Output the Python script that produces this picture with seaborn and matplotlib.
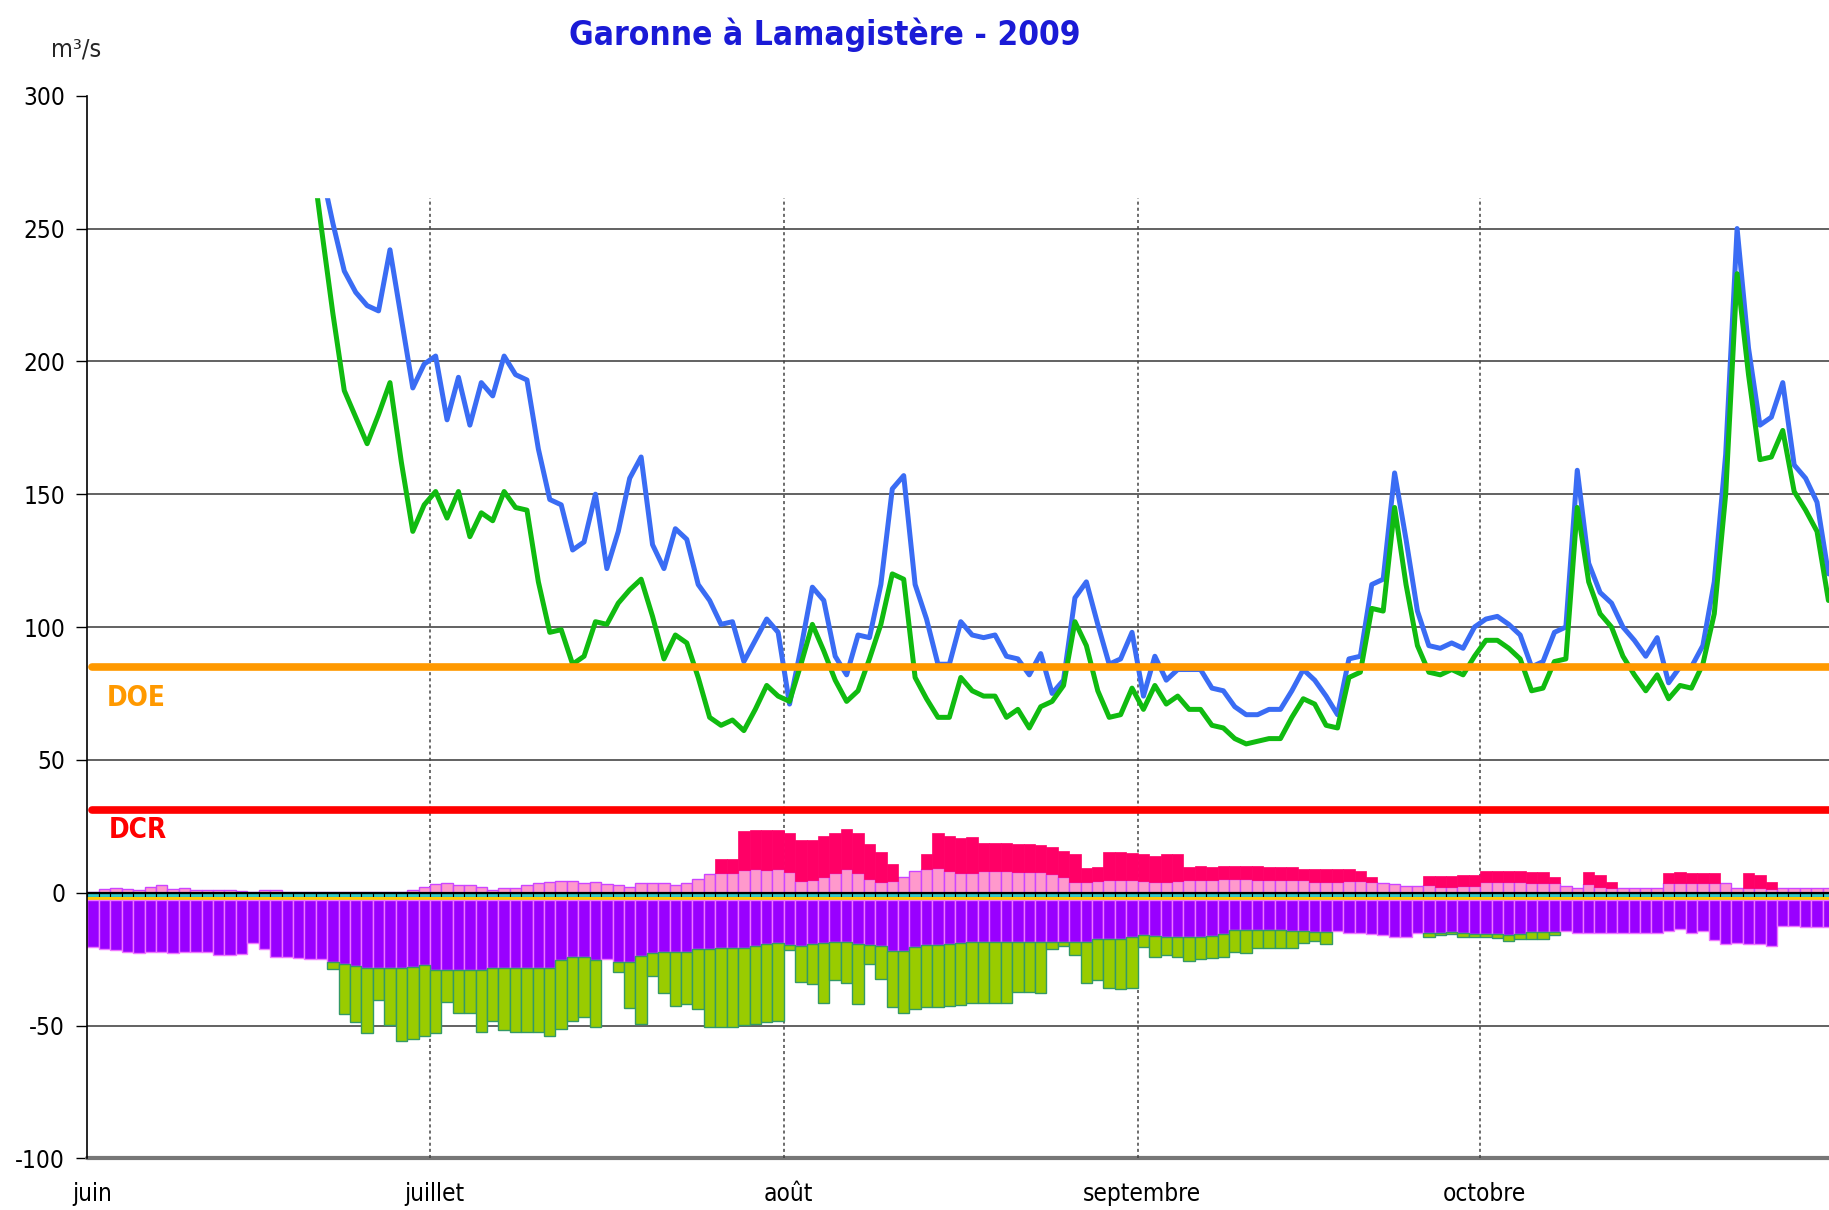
import matplotlib
matplotlib.use("Agg")
import matplotlib.pyplot as plt
import numpy as np
import pandas as pd
import seaborn as sns

# jour 0 = 1er juin 2009
mois = ["juin", "juillet", "août", "septembre", "octobre"]
debut_mois = [0, 30, 61, 92, 122]

# débits journaliers (m3/s)
debit_bleu = [
    560, 540, 520, 505, 490, 470, 455, 440, 430, 420,
    405, 390, 380, 365, 350, 340, 325, 310, 300, 290,
    272, 252, 234, 226, 221, 219, 242, 216, 190, 199,
    202, 178, 194, 176, 192, 187, 202, 195, 193, 167,
    148, 146, 129, 132, 150, 122, 136, 156, 164, 131,
    122, 137, 133, 116, 110, 101, 102, 87, 95, 103,
    98, 71, 92, 115, 110, 89, 82, 97, 96, 116,
    152, 157, 116, 103, 86, 86, 102, 97, 96, 97,
    89, 88, 82, 90, 75, 80, 111, 117, 101, 86,
    88, 98, 74, 89, 80, 84, 84, 84, 77, 76,
    70, 67, 67, 69, 69, 76, 84, 80, 74, 67,
    88, 89, 116, 118, 158, 133, 106, 93, 92, 94,
    92, 100, 103, 104, 101, 97, 85, 87, 98, 100,
    159, 124, 113, 109, 100, 95, 89, 96, 79, 85,
    85, 93, 117, 165, 250, 205, 176, 179, 192, 161,
    156, 147, 120,
]
debit_vert = [
    530, 510, 495, 480, 465, 450, 435, 420, 410, 400,
    385, 370, 360, 345, 335, 325, 315, 305, 295, 283,
    250, 218, 189, 179, 169, 180, 192, 162, 136, 146,
    151, 141, 151, 134, 143, 140, 151, 145, 144, 117,
    98, 99, 86, 89, 102, 101, 109, 114, 118, 104,
    88, 97, 94, 81, 66, 63, 65, 61, 69, 78,
    74, 72, 86, 101, 91, 80, 72, 76, 88, 101,
    120, 118, 81, 73, 66, 66, 81, 76, 74, 74,
    66, 69, 62, 70, 72, 78, 102, 93, 76, 66,
    67, 77, 69, 78, 71, 74, 69, 69, 63, 62,
    58, 56, 57, 58, 58, 66, 73, 71, 63, 62,
    81, 83, 107, 106, 145, 116, 93, 83, 82, 84,
    82, 89, 95, 95, 92, 88, 76, 77, 87, 88,
    145, 117, 105, 100, 89, 82, 76, 82, 73, 78,
    77, 86, 105, 150, 233, 195, 163, 164, 174, 151,
    144, 136, 110,
]
doe = 85
dcr = 31

# barres empilées (m3/s)
rose = [
    0.4, 1.4, 1.9, 1.4, 1.0, 2.3, 3.0, 1.5, 1.9, 1.0,
    1.0, 1.0, 1.0, 0.6, 0.3, 1.0, 0.9, 0.3, 0.3, 0.3,
    0.3, 0.3, 0.3, 0.3, 0.3, 0.3, 0.3, 0.3, 1.0, 2.0,
    3.1, 3.5, 2.9, 2.9, 2.3, 1.0, 1.6, 1.6, 2.9, 3.5,
    3.9, 4.5, 4.4, 3.5, 3.9, 3.3, 2.8, 2.3, 3.5, 3.5,
    3.5, 2.8, 3.5, 5.0, 7.0, 7.5, 7.5, 8.5, 8.8, 8.5,
    8.8, 7.7, 4.3, 4.8, 6.0, 7.5, 8.8, 7.3, 5.0, 4.1,
    4.4, 6.0, 8.3, 8.8, 9.2, 8.3, 7.3, 7.5, 8.3, 8.3,
    8.3, 7.7, 7.7, 7.7, 6.9, 5.8, 3.9, 4.1, 4.4, 4.8,
    4.8, 4.8, 4.4, 4.1, 4.1, 4.4, 4.8, 4.8, 4.8, 5.3,
    5.2, 5.2, 4.8, 4.8, 4.8, 4.8, 4.8, 4.1, 4.1, 4.1,
    4.4, 4.4, 3.9, 3.5, 3.3, 2.5, 2.5, 2.9, 2.3, 2.3,
    2.5, 2.5, 4.1, 4.1, 4.1, 4.1, 3.8, 3.8, 3.8, 2.5,
    1.6, 3.3, 2.3, 1.6, 1.6, 1.6, 1.6, 1.6, 3.5, 3.5,
    3.5, 3.5, 3.5, 3.5, 1.6, 1.6, 1.6, 1.3, 1.6, 1.6,
    1.6, 1.6, 1.6,
]
rouge = [
    0, 0, 0, 0, 0, 0, 0, 0, 0, 0,
    0, 0, 0, 0, 0, 0, 0, 0, 0, 0,
    0, 0, 0, 0, 0, 0, 0, 0, 0, 0,
    0, 0, 0, 0, 0, 0, 0, 0, 0, 0,
    0, 0, 0, 0, 0, 0, 0, 0, 0, 0,
    0, 0, 0, 0, 0, 5.0, 5.0, 14.7, 14.8, 15.1,
    14.8, 14.9, 15.5, 15.0, 15.3, 15.1, 15.0, 15.0, 13.3, 11.1,
    6.4, 0, 0, 5.6, 13.1, 13.2, 13.2, 13.3, 10.5, 10.5,
    10.5, 10.6, 10.6, 10.2, 10.4, 10.0, 10.5, 5.1, 5.4, 10.4,
    10.4, 10.0, 10.0, 9.7, 10.3, 10.0, 5.0, 5.4, 5.0, 4.9,
    5.0, 5.0, 5.4, 5.0, 4.7, 4.7, 4.0, 4.7, 4.7, 4.7,
    4.4, 3.8, 1.9, 0, 0, 0, 0, 3.4, 4.0, 4.0,
    4.1, 4.1, 4.1, 4.1, 4.1, 4.1, 3.9, 3.9, 2.0, 0,
    0, 4.4, 4.3, 2.5, 0, 0, 0, 0, 3.8, 4.2,
    3.8, 3.8, 3.8, 0, 0, 5.7, 5.0, 2.8, 0, 0,
    0, 0, 0,
]
bande_cyan = 1.8
bande_jaune = 0.9
violet = [
    17.9, 18.4, 18.9, 19.5, 20.0, 19.5, 19.5, 20.0, 19.5, 19.5,
    19.5, 20.8, 20.9, 20.4, 16.4, 18.4, 21.4, 21.4, 21.9, 22.4,
    22.4, 23.3, 24.2, 25.0, 25.5, 25.5, 25.5, 25.5, 25.2, 24.7,
    26.5, 26.5, 26.5, 26.5, 26.5, 25.8, 25.5, 25.5, 25.5, 25.5,
    25.5, 22.6, 21.6, 21.6, 22.6, 22.4, 23.3, 23.3, 21.1, 20.1,
    19.8, 19.8, 19.5, 18.6, 18.6, 18.3, 18.0, 18.0, 17.4, 16.6,
    16.1, 17.1, 17.2, 16.6, 16.1, 15.7, 16.0, 16.6, 17.0, 17.4,
    19.1, 19.1, 17.6, 17.1, 16.9, 16.6, 16.1, 15.7, 15.7, 16.0,
    15.7, 15.7, 15.7, 15.7, 15.7, 15.7, 15.7, 15.7, 14.9, 14.6,
    14.6, 14.1, 13.2, 13.6, 14.1, 14.1, 14.1, 14.1, 13.6, 12.9,
    11.4, 11.4, 11.4, 11.4, 11.4, 11.7, 11.7, 12.0, 12.0, 11.7,
    12.4, 12.4, 12.9, 13.4, 13.9, 13.9, 12.4, 12.6, 12.4, 12.2,
    12.6, 13.0, 13.0, 13.0, 13.2, 12.9, 12.2, 12.2, 12.2, 11.7,
    12.4, 12.4, 12.4, 12.4, 12.4, 12.4, 12.4, 12.4, 11.7, 11.1,
    12.4, 11.7, 15.1, 16.7, 16.4, 16.7, 16.7, 17.4, 9.8, 9.8,
    10.1, 10.1, 10.1,
]
vert = [
    0, 0, 0, 0, 0, 0, 0, 0, 0, 0,
    0, 0, 0, 0, 0, 0, 0, 0, 0, 0,
    0, 2.7, 18.9, 20.9, 24.8, 12.2, 21.6, 27.5, 27.3, 26.4,
    23.8, 12.1, 16.0, 16.0, 23.1, 19.8, 23.5, 24.1, 24.1, 24.1,
    25.6, 26.0, 24.0, 22.6, 25.4, 0, 3.7, 17.3, 25.8, 8.4,
    15.1, 20.2, 19.8, 22.5, 29.4, 29.7, 29.7, 29.0, 29.3, 29.3,
    29.5, 1.8, 13.6, 15.2, 22.9, 14.5, 15.4, 22.7, 7.3, 12.5,
    21.4, 23.4, 23.5, 23.3, 23.3, 23.4, 23.5, 23.3, 23.3, 23.0,
    23.3, 18.9, 18.9, 19.5, 2.8, 1.7, 5.1, 15.5, 15.3, 18.5,
    19.0, 19.0, 4.7, 7.8, 6.5, 7.3, 8.9, 8.3, 8.2, 8.5,
    8.1, 8.5, 6.6, 6.9, 6.9, 6.6, 4.7, 3.5, 4.8, 0,
    0, 0, 0, 0, 0, 0, 0, 1.3, 1.0, 0.7,
    1.3, 0.9, 0.9, 1.5, 2.2, 2.0, 2.7, 2.7, 1.2, 0,
    0, 0, 0, 0, 0, 0, 0, 0, 0, 0,
    0, 0, 0, 0, 0, 0, 0, 0, 0, 0,
    0, 0, 0,
]

jours = np.arange(len(debit_bleu))
rose_a = np.array(rose)
rouge_a = np.array(rouge)
violet_a = np.array(violet)
vert_a = np.array(vert)
bande = bande_cyan + bande_jaune

sns.set_theme(style="white")
plt.rcParams["font.family"] = ["DejaVu Sans"]
plt.rcParams["font.stretch"] = "condensed"
plt.rcParams["axes.unicode_minus"] = False

fig = plt.figure(figsize=(18.29, 12.10), dpi=100)
ax = fig.add_axes([0.0478, 0.0427, 0.9522, 0.8782])

# grille
for y in [250, 200, 150, 100, 50, -50]:
    ax.axhline(y, color="#555555", lw=1.3, zorder=1)
ax.axhline(-100, color="#777777", lw=3, zorder=1, clip_on=False)
ax.vlines(debut_mois[1:], -100, 262, colors="#444444", linestyles=(0, (2, 2)),
          lw=1.1, zorder=1)

# barres positives
ax.bar(jours, rose_a, width=1, align="edge", color="#ff99cc",
       edgecolor="#cc44ff", lw=1, zorder=2)
m = rouge_a > 0
ax.bar(jours[m], rouge_a[m], bottom=rose_a[m], width=1, align="edge",
       color="#ff0066", edgecolor="#ff0066", lw=0.5, zorder=2)

# barres négatives
ax.bar(jours, -bande_cyan, width=1, align="edge", color="#33cccc",
       edgecolor="black", lw=0.8, zorder=2)
ax.bar(jours, -bande_jaune, bottom=-bande_cyan, width=1, align="edge",
       color="#ffcc00", edgecolor="none", zorder=2)
ax.bar(jours, -violet_a, bottom=-bande, width=1, align="edge", color="#9900ff",
       edgecolor="#ee77ff", lw=1, zorder=2)
m = vert_a > 0
ax.bar(jours[m], -vert_a[m], bottom=-(bande + violet_a[m]), width=1,
       align="edge", color="#99cc00", edgecolor="#339966", lw=1, zorder=2)
ax.axhline(0, color="black", lw=1.6, zorder=3)

# débits
df = pd.DataFrame({"jour": jours + 0.5, "bleu": debit_bleu, "vert": debit_vert})
sns.lineplot(data=df, x="jour", y="bleu", color="#3a6cf4", lw=3.6, ax=ax, zorder=4)
sns.lineplot(data=df, x="jour", y="vert", color="#10bb10", lw=3.6, ax=ax, zorder=4)

xmax = 152.55
ax.plot([0.4, xmax + 1], [doe, doe], color="#ff9900", lw=5.5,
        solid_capstyle="round", zorder=5)
ax.plot([0.4, xmax + 1], [dcr, dcr], color="#ff0000", lw=5.5,
        solid_capstyle="round", zorder=5)
ax.text(1.7, 73.2, "DOE", color="#ff9900", fontsize=20, fontweight="bold",
        ha="left", va="center", zorder=5)
ax.text(1.9, 23.6, "DCR", color="#ff0000", fontsize=20, fontweight="bold",
        ha="left", va="center", zorder=5)

# haut du graphique masqué
ax.axhspan(262, 300, color="white", zorder=6)

ax.set_xlim(0, xmax)
ax.set_ylim(-100, 300)
for s in ["top", "right", "bottom"]:
    ax.spines[s].set_visible(False)
ax.spines["left"].set_color("black")
ax.spines["left"].set_linewidth(1.2)
ax.spines["left"].set_zorder(7)

ax.set_yticks(range(-100, 301, 50))
ax.tick_params(axis="y", left=True, length=8, width=1, color="black",
               pad=8, labelsize=17.5, labelcolor="black")
ax.set_xticks([d + 0.4 for d in debut_mois])
ax.set_xticklabels(mois)
ax.tick_params(axis="x", bottom=False, length=0, pad=17, labelsize=17.5,
               labelcolor="black")
ax.set_xlabel("")
ax.set_ylabel("")
ax.grid(False)

fig.text(0.451, 0.971, "Garonne à Lamagistère - 2009", ha="center",
         va="center", fontsize=24, fontweight="bold", color="#1a1ad6")
fig.text(0.0415, 0.9587, "m³/s", ha="center", va="center", fontsize=18)

fig.savefig("out.png", dpi=100)
